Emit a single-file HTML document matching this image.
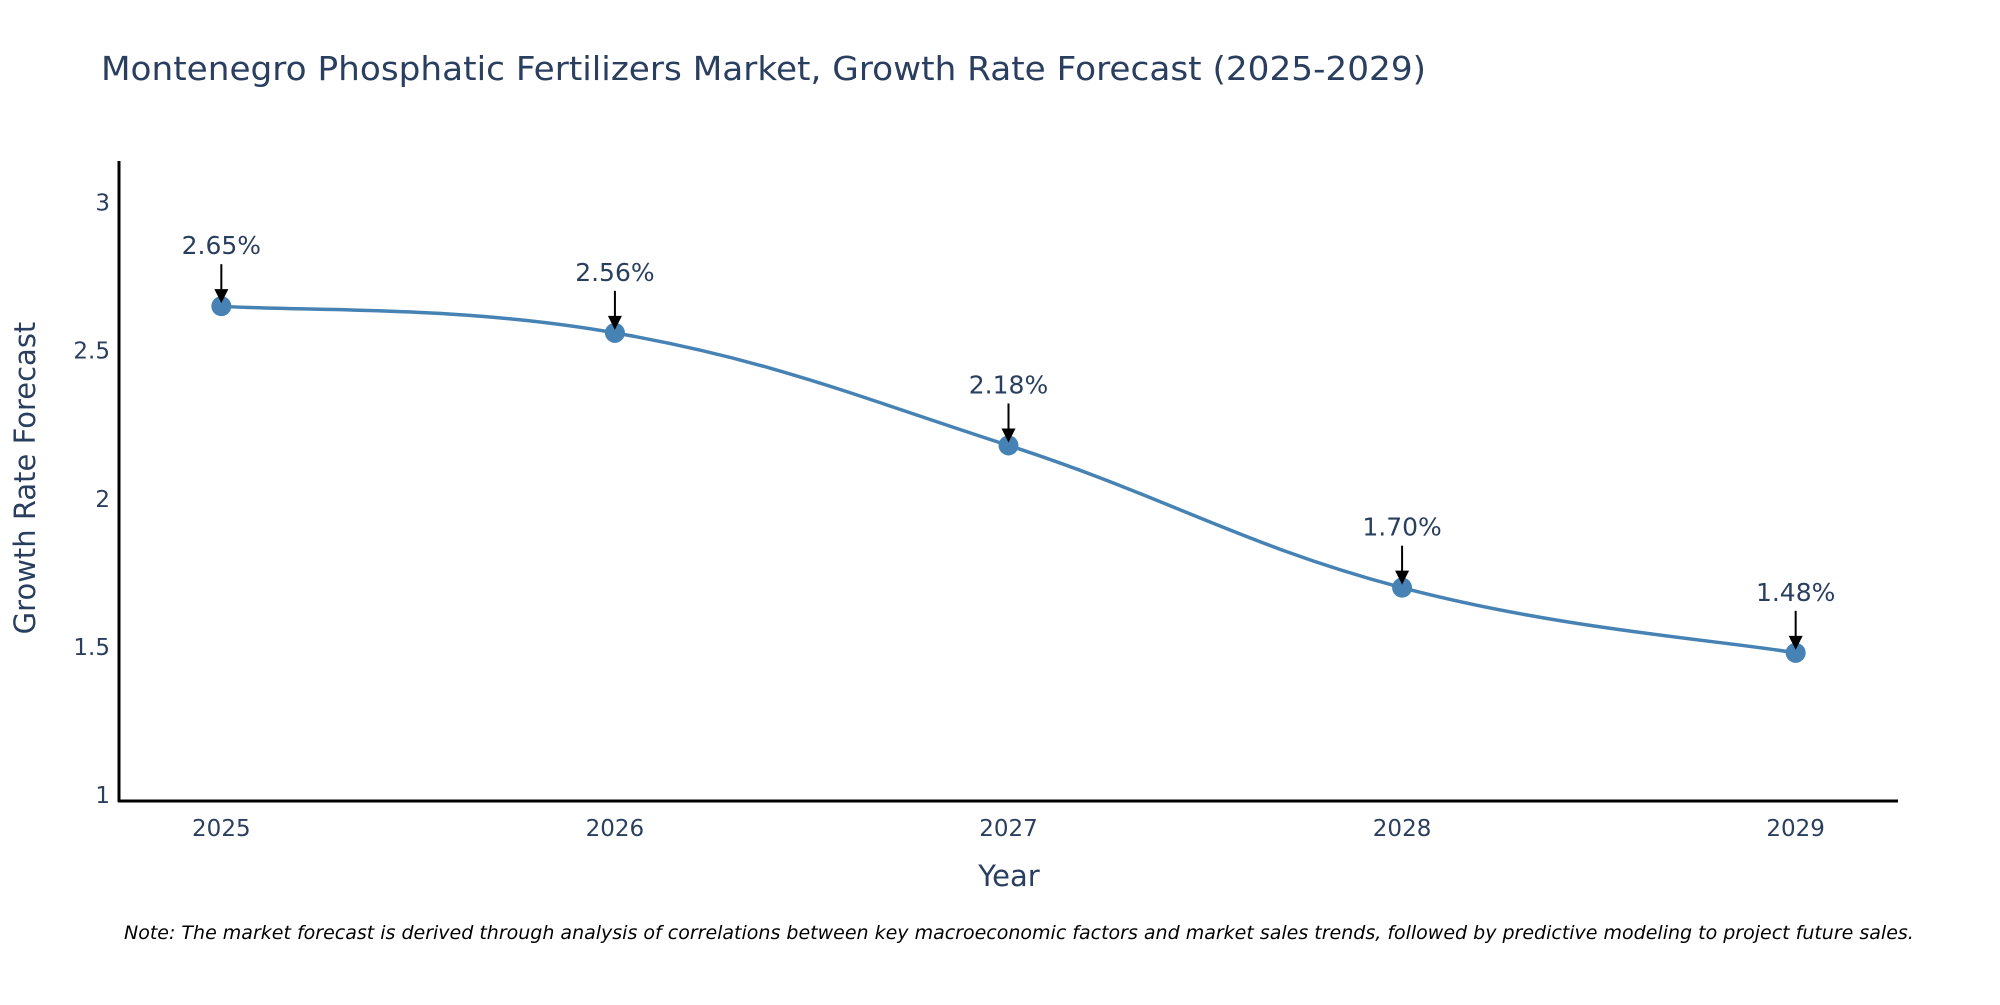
<!DOCTYPE html>
<html><head><meta charset="utf-8"><style>
body{margin:0;background:#fff}
svg text{font-family:"DejaVu Sans","Liberation Sans",sans-serif}
</style></head><body>
<svg id="chart" width="2000" height="1000" viewBox="0 0 2000 1000">
<rect width="2000" height="1000" fill="#fff"/>
<text x="101" y="80" font-size="33" fill="#2a3f5f" textLength="1325" lengthAdjust="spacingAndGlyphs">Montenegro Phosphatic Fertilizers Market, Growth Rate Forecast (2025-2029)</text>
<g id="yticks"></g>
<g id="xticks"></g>
<path id="line" fill="none" stroke="#4682b4" stroke-width="3.5"/>
<g id="points"></g>
<g id="annots"></g>
<line x1="119" y1="161" x2="119" y2="802" stroke="#000" stroke-width="3"/>
<line x1="118" y1="801" x2="1898" y2="801" stroke="#000" stroke-width="3"/>
<text x="1009" y="886" font-size="29" fill="#2a3f5f" text-anchor="middle">Year</text>
<text x="0" y="0" font-size="29" fill="#2a3f5f" text-anchor="middle" transform="translate(35,478) rotate(-90)">Growth Rate Forecast</text>
<text x="124" y="939" font-size="19" font-style="italic" fill="#000">Note: The market forecast is derived through analysis of correlations between key macroeconomic factors and market sales trends, followed by predictive modeling to project future sales.</text>
</svg>
<script>
const years=[2025,2026,2027,2028,2029];
const values=[2.65,2.56,2.18,1.70,1.48];
const labels=["2.65%","2.56%","2.18%","1.70%","1.48%"];
const yTicks=[1,1.5,2,2.5,3];
const yTickLabels=["1","1.5","2","2.5","3"];
const NS="http://www.w3.org/2000/svg";
const X0=119,X1=1898,Y0=801,Y1=161;
const xMin=2024.74,xMax=2029.26,yMin=0.98,yMax=3.14;
const xs=v=>X0+(v-xMin)/(xMax-xMin)*(X1-X0);
const ys=v=>Y0-(v-yMin)/(yMax-yMin)*(Y0-Y1);
function mk(t,a,p){const e=document.createElementNS(NS,t);for(const k in a)e.setAttribute(k,a[k]);p.appendChild(e);return e;}
const yt=document.getElementById('yticks');
yTicks.forEach((v,i)=>{const t=mk('text',{x:110,y:ys(v)+8,'font-size':23,fill:'#2a3f5f','text-anchor':'end'},yt);


t.textContent=yTickLabels[i];});
const xt=document.getElementById('xticks');
years.forEach(v=>{const t=mk('text',{x:xs(v),y:836,'font-size':23,fill:'#2a3f5f','text-anchor':'middle'},xt);


t.textContent=v;});
const P=years.map((y,i)=>[xs(y),ys(values[i])]);
let d=`M${P[0][0]},${P[0][1]}`;const s=0.2;
for(let i=0;i<P.length-1;i++){const p0=P[i-1]||P[i],p1=P[i],p2=P[i+1],p3=P[i+2]||P[i+1];
d+=` C${p1[0]+(p2[0]-p0[0])*s},${p1[1]+(p2[1]-p0[1])*s} ${p2[0]-(p3[0]-p1[0])*s},${p2[1]-(p3[1]-p1[1])*s} ${p2[0]},${p2[1]}`;}
document.getElementById('line').setAttribute('d',d);
const pg=document.getElementById('points'),ag=document.getElementById('annots');
P.forEach((p,i)=>{const c=mk('circle',{cx:p[0],cy:p[1],r:10,fill:'#4682b4'},pg);


const l=mk('line',{x1:p[0],y1:p[1]-42,x2:p[0],y2:p[1]-14,stroke:'#000','stroke-width':2},ag);


const h=mk('polygon',{points:`${p[0]-7},${p[1]-17} ${p[0]+7},${p[1]-17} ${p[0]},${p[1]-3}`,fill:'#000'},ag);


const t=mk('text',{x:p[0],y:p[1]-52,'font-size':25,fill:'#2a3f5f','text-anchor':'middle'},ag);


t.textContent=labels[i];});
</script>
</body></html>
